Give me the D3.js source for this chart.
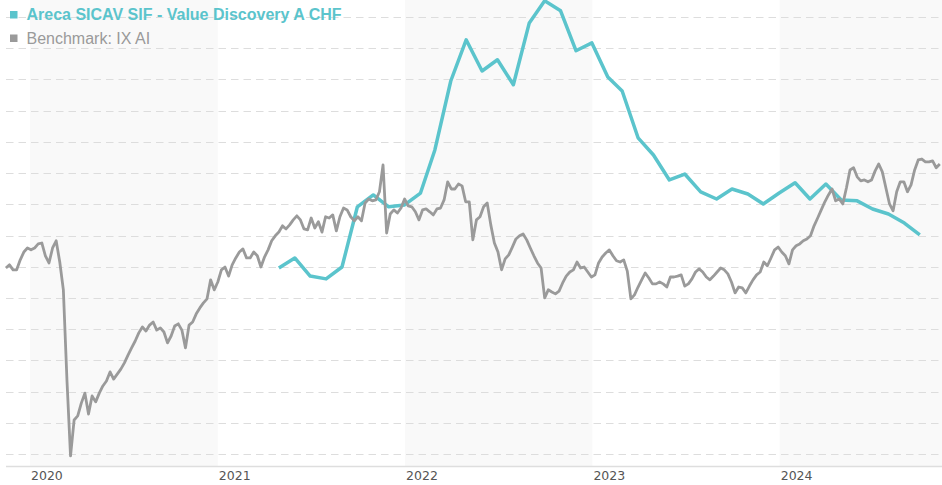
<!DOCTYPE html>
<html>
<head>
<meta charset="utf-8">
<script src="https://cdn.jsdelivr.net/npm/d3@7"></script>
<style>
  body { margin: 0; background: #fff; }
</style>
</head>
<body>
<div id="chart"></div>
<script>
// series names
var fundName = "Areca SICAV SIF - Value Discovery A CHF";
var benchName = "Benchmark: IX AI";

// fund: month-end values, Apr 2021 .. Sep 2024 (first month after the first value)
var fundFirstMonth = "2021-05-01";
var fundValues = [
  99.6, 102.8, 97.0, 96.1, 99.9, 119.2, 123.0, 119.2, 119.8,
  123.6, 137.4, 159.5, 172.7, 162.7, 166.3, 158.3, 178.1, 185.2, 182.0, 169.2, 171.7,
  160.8, 156.3, 141.3, 135.8, 127.8, 129.7, 124.0, 121.7, 124.9, 123.3, 120.1, 123.6,
  126.9, 121.7, 126.5, 121.4, 121.1, 118.5, 116.9, 114.0, 110.2
];

// benchmark: weekly values from 15 Nov 2019
var benchStart = "2019-11-15";
var benchValues = [
  99.6, 100.6, 99.0, 99.0, 102.2, 104.7, 106.0, 105.4, 106.0, 107.3,
  107.6, 103.5, 101.2, 106.0, 108.3, 101.5, 92.6, 63.7, 39.4, 50.9,
  52.2, 56.3, 59.5, 52.8, 58.6, 56.7, 59.5, 61.8, 63.4, 66.3,
  64.0, 65.6, 67.2, 69.2, 71.7, 74.0, 76.2, 78.8, 80.7, 79.4,
  81.3, 82.3, 79.7, 80.4, 79.1, 75.6, 77.8, 81.0, 81.7, 79.7,
  74.0, 81.3, 82.3, 84.9, 86.8, 88.4, 89.7, 95.8, 92.6, 95.1,
  99.0, 99.9, 97.0, 100.6, 102.8, 104.7, 105.7, 102.8, 102.8, 104.7,
  103.5, 99.9, 103.1, 105.4, 108.3, 109.9, 111.1, 113.1, 112.1, 113.4,
  115.0, 116.3, 115.0, 112.1, 111.8, 115.6, 112.4, 114.4, 111.1, 116.0,
  115.6, 116.6, 111.5, 116.0, 118.8, 118.2, 116.0, 114.7, 116.0, 114.7,
  120.4, 121.7, 121.1, 121.4, 124.0, 132.6, 110.8, 116.9, 118.2, 117.2,
  118.8, 121.7, 119.5, 119.2, 117.6, 115.0, 118.2, 118.5, 117.6, 116.6,
  118.5, 118.8, 121.4, 127.2, 124.9, 124.9, 126.5, 125.9, 120.8, 120.8,
  108.6, 115.0, 116.0, 119.2, 120.4, 113.4, 107.6, 104.7, 99.0, 102.5,
  103.8, 106.3, 108.9, 109.9, 110.5, 108.6, 106.0, 103.5, 101.2, 99.6,
  90.0, 92.6, 91.9, 91.3, 92.2, 94.8, 97.0, 98.3, 99.0, 101.5,
  99.6, 99.9, 98.3, 96.7, 97.4, 101.2, 103.1, 104.4, 105.4, 103.5,
  101.9, 101.5, 102.2, 98.6, 89.7, 91.0, 93.5, 95.8, 98.0, 96.4,
  94.5, 94.5, 95.1, 94.5, 93.5, 96.7, 96.7, 97.0, 97.4, 93.8,
  94.5, 96.1, 98.3, 99.3, 98.3, 96.7, 95.8, 97.0, 98.3, 99.6,
  99.0, 97.7, 95.1, 91.6, 93.5, 93.2, 91.6, 93.8, 95.8, 97.4,
  98.3, 101.5, 100.3, 102.8, 105.4, 106.3, 104.7, 103.5, 100.9, 105.4,
  106.7, 107.3, 108.3, 108.9, 109.9, 113.1, 115.6, 118.2, 120.8, 123.0,
  124.9, 121.1, 121.7, 120.1, 125.2, 131.0, 131.7, 128.8, 127.5, 127.8,
  127.2, 127.8, 130.7, 132.9, 130.4, 125.2, 120.1, 117.9, 124.0, 127.2,
  127.2, 124.0, 126.2, 131.0, 134.2, 134.5, 133.6, 133.6, 133.9, 131.7,
  132.9
];

// axis years
var years = [2020, 2021, 2022, 2023, 2024];

var width = 942, height = 485;
var axisY = 466.5;
var fundColor = "#5bc4cc", benchColor = "#9a9a9a";

var parse = d3.timeParse("%Y-%m-%d");

// last day of each month
var fundData = fundValues.map(function (v, i) {
  var next = d3.timeMonth.offset(parse(fundFirstMonth), i);
  return { date: d3.timeDay.offset(next, -1), value: v };
});
var benchData = benchValues.map(function (v, i) {
  return { date: d3.timeDay.offset(parse(benchStart), 7 * i), value: v };
});

var svg = d3.select("#chart")
  .append("svg")
  .attr("width", width)
  .attr("height", height)
  .style("display", "block");

var x = d3.scaleTime()
  .domain([new Date(2020, 0, 1), new Date(2025, 0, 1)])
  .range([30, 967.5]);

var y = d3.scaleLinear()
  .domain([40, 180])
  .range([454, 17]);

// alternating year bands
svg.append("g")
  .selectAll("rect")
  .data(years.filter(function (d, i) { return i % 2 === 0; }))
  .enter()
  .append("rect")
  .attr("x", function (d) { return x(new Date(d, 0, 1)); })
  .attr("y", 0)
  .attr("width", function (d) { return x(new Date(d + 1, 0, 1)) - x(new Date(d, 0, 1)); })
  .attr("height", axisY)
  .attr("fill", "#f9f9f9");

// dashed gridlines
svg.append("g")
  .selectAll("line")
  .data(y.ticks(14))
  .enter()
  .append("line")
  .attr("x1", 6)
  .attr("x2", width)
  .attr("y1", function (d) { return Math.round(y(d)) + 0.5; })
  .attr("y2", function (d) { return Math.round(y(d)) + 0.5; })
  .attr("stroke", "#dddddd")
  .attr("stroke-width", 1)
  .attr("stroke-dasharray", "7.5,5");

// x axis
var xAxis = svg.append("g")
  .attr("transform", "translate(0," + axisY + ")")
  .call(d3.axisBottom(x)
    .tickValues(years.map(function (d) { return new Date(d, 0, 1); }))
    .tickFormat(d3.timeFormat("%Y"))
    .tickSize(0));
xAxis.select(".domain")
  .attr("d", "M6,0H" + width)
  .attr("stroke", "#dedede")
  .attr("stroke-width", 1.5);
xAxis.selectAll("text")
  .attr("text-anchor", "start")
  .attr("dx", "0.5")
  .attr("y", 13)
  .attr("dy", 0)
  .style("font-family", "'DejaVu Sans', Verdana, sans-serif")
  .style("font-size", "12.5px")
  .style("fill", "#555");

var line = d3.line()
  .x(function (d) { return x(d.date); })
  .y(function (d) { return y(d.value); });

svg.append("path")
  .datum(fundData)
  .attr("fill", "none")
  .attr("stroke", fundColor)
  .attr("stroke-width", 3.5)
  .attr("stroke-linejoin", "round")
  .attr("d", line);

svg.append("path")
  .datum(benchData)
  .attr("fill", "none")
  .attr("stroke", benchColor)
  .attr("stroke-width", 2.8)
  .attr("stroke-linejoin", "round")
  .attr("d", line);

// legend
var legend = svg.append("g")
  .style("font-family", "'Liberation Sans', Arial, sans-serif")
  .style("font-size", "16px");
var items = [
  { name: fundName, color: fundColor, weight: "bold", y: 20 },
  { name: benchName, color: benchColor, weight: "normal", y: 43.5 }
];
legend.selectAll("rect")
  .data(items)
  .enter()
  .append("rect")
  .attr("x", 10)
  .attr("y", function (d) { return d.y - 9; })
  .attr("width", 7.5)
  .attr("height", 7.5)
  .attr("fill", function (d) { return d.color; });
legend.selectAll("text")
  .data(items)
  .enter()
  .append("text")
  .attr("x", 26.5)
  .attr("y", function (d) { return d.y; })
  .attr("fill", function (d) { return d.color; })
  .style("font-weight", function (d) { return d.weight; })
  .text(function (d) { return d.name; });
</script>
</body>
</html>
